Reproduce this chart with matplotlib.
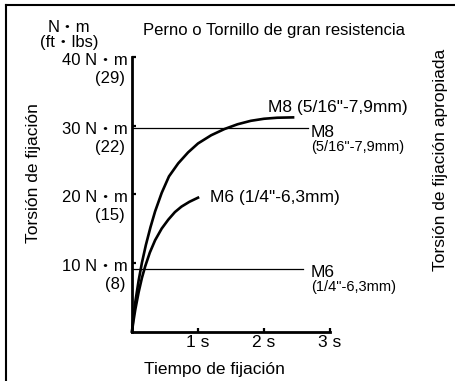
import matplotlib
matplotlib.use('Agg')
import matplotlib.pyplot as plt
from matplotlib.lines import Line2D
from matplotlib.transforms import offset_copy

# el punto medio "・" viene de la fuente CJK
plt.rcParams['font.family'] = ['Liberation Sans', 'Noto Sans CJK JP', 'DejaVu Sans']

# Curvas de apriete (tiempo en s, torsión en N・m)
t_m8 = [0, 0.02, 0.05, 0.1, 0.15, 0.21, 0.28, 0.35, 0.45, 0.56, 0.7, 0.85, 1.0,
        1.2, 1.4, 1.6, 1.8, 2.0, 2.2, 2.44]
nm_m8 = [0, 2.0, 4.3, 7.4, 10.0, 12.6, 15.2, 17.5, 20.2, 22.6, 24.5, 26.1, 27.4,
         28.6, 29.5, 30.2, 30.7, 31.0, 31.15, 31.2]
t_m6 = [0, 0.02, 0.05, 0.1, 0.15, 0.2, 0.27, 0.35, 0.45, 0.55, 0.65, 0.75, 0.87, 1.0]
nm_m6 = [0, 1.4, 3.2, 5.7, 7.8, 9.5, 11.5, 13.3, 15.0, 16.3, 17.4, 18.2, 18.9, 19.5]

# Torsión de fijación apropiada (M8, M6)
ref_nm = [29.65, 9.1]
ref_end = [2.67, 2.59]

# Ejes
nm_ticks = [10, 20, 30, 40]
ftlb_ticks = [8, 15, 22, 29]
s_ticks = [1, 2, 3]

W, H = 455, 381
fig = plt.figure(figsize=(W / 100, H / 100), dpi=100)
ax = fig.add_axes([132 / W, 49.5 / H, 198 / W, 274.5 / H])


def px(x, y):
    # posición en píxeles (desde arriba a la izquierda) -> fracción de figura
    return x / W, 1 - y / H


for t, n in [(t_m8, nm_m8), (t_m6, nm_m6)]:
    ax.plot(t, n, color='black', lw=1.9, clip_on=False)
for n, e in zip(ref_nm, ref_end):
    ax.plot([0, e], [n, n], color='black', lw=0.9, clip_on=False)

ax.set_xlim(0, 3)
ax.set_ylim(0, 40)
for s in ['top', 'right']:
    ax.spines[s].set_visible(False)
for s in ['left', 'bottom']:
    ax.spines[s].set_linewidth(2)

ax.set_xticks(s_ticks, labels=[f"{s} s" for s in s_ticks])
ax.set_yticks(nm_ticks, labels=[])
ax.tick_params(direction='in', length=3, width=1.6, labelsize=12.5, pad=2.5)

ytr = ax.get_yaxis_transform()
for n, f in zip(nm_ticks, ftlb_ticks):
    ax.text(0, n, f"{n} N・m", fontsize=12, ha='right', va='baseline',
            transform=offset_copy(ytr, fig, x=-4, y=-8, units='dots'))
    ax.text(0, n, f"({f})", fontsize=12, ha='right', va='baseline',
            transform=offset_copy(ytr, fig, x=-7, y=-26, units='dots'))

# Etiquetas de las curvas y de las líneas
fig.text(*px(268, 112), 'M8 (5/16"-7,9mm)', fontsize=12.5, va='baseline')
fig.text(*px(210, 202), 'M6 (1/4"-6,3mm)', fontsize=12.5, va='baseline')
fig.text(*px(311, 137), 'M8', fontsize=12.5, va='baseline')
fig.text(*px(311, 151), '(5/16"-7,9mm)', fontsize=10.5, va='baseline')
fig.text(*px(311, 277), 'M6', fontsize=12.5, va='baseline')
fig.text(*px(311, 291), '(1/4"-6,3mm)', fontsize=10.5, va='baseline')

fig.text(*px(274, 35), 'Perno o Tornillo de gran resistencia', ha='center', va='baseline', fontsize=12)
fig.text(*px(69, 32), 'N・m', ha='center', va='baseline', fontsize=12)
fig.text(*px(69, 47), '(ft・lbs)', ha='center', va='baseline', fontsize=12)
fig.text(*px(214, 374), 'Tiempo de fijación', ha='center', va='baseline', fontsize=12.5)
fig.text(*px(34, 173), 'Torsión de fijación', ha='center', va='center', rotation=90, fontsize=12.5)
fig.text(*px(441, 160), 'Torsión de fijación apropiada', ha='center', va='center', rotation=90, fontsize=12.5)

# Marco
fig.add_artist(Line2D([6 / W, 6 / W], [0, 1 - 5 / H], transform=fig.transFigure, color='black', lw=1.5))
fig.add_artist(Line2D([6 / W, 1], [1 - 5 / H, 1 - 5 / H], transform=fig.transFigure, color='black', lw=1.5))

fig.savefig('out.png', dpi=100)
plt.close(fig)
